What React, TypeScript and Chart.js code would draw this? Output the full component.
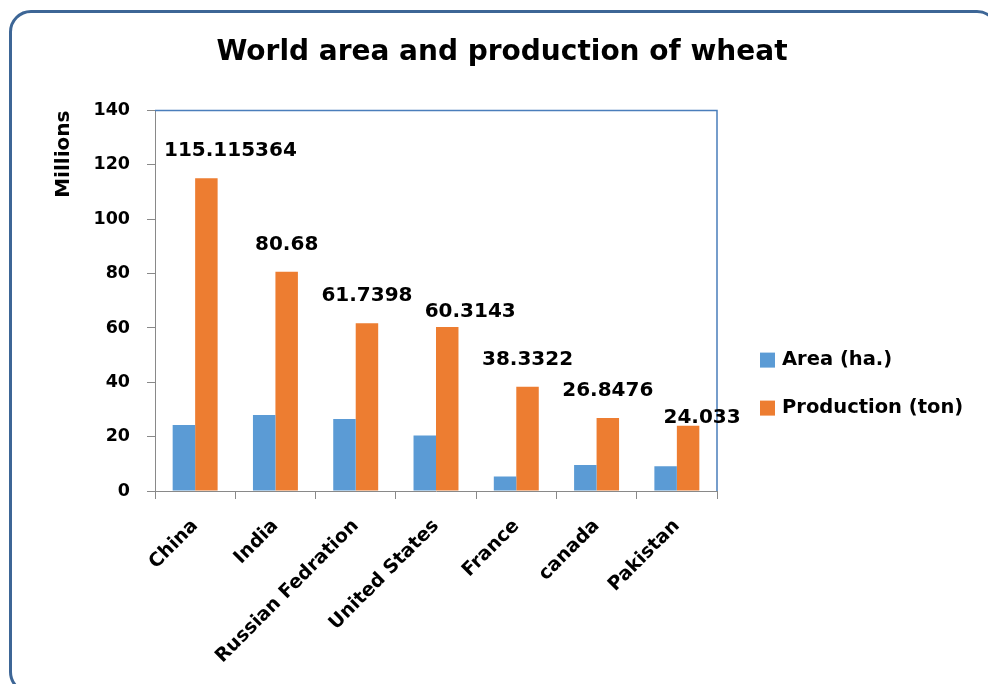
import React, { useEffect, useRef } from "react";
import { Chart, registerables } from "chart.js";

Chart.register(...registerables);

const categories = ["China", "India", "Russian Fedration", "United States", "France", "canada", "Pakistan"];
const areaValues = [24.3, 28.0, 26.5, 20.4, 5.3, 9.6, 9.1];
const productionValues = [115.115364, 80.68, 61.7398, 60.3143, 38.3322, 26.8476, 24.033];
const productionLabels = ["115.115364", "80.68", "61.7398", "60.3143", "38.3322", "26.8476", "24.033"];
const seriesNames = ["Area (ha.)", "Production (ton)"];
const seriesColors = ["#5B9BD5", "#ED7D31"];
const yMin = 0;
const yMax = 140;
const yStep = 20;
const chartTitle = "World area and production of wheat";
const yAxisTitle = "Millions";

const FONT = "'DejaVu Sans', sans-serif";
const AXIS_GRAY = "#898989";

// relative nudges for data labels that were hand-placed in the original
const labelNudges: [number, number][] = [[24, 0], [0, 0], [0, 0], [23, 12], [0, 0], [0, 0], [14, 19]];

const plotBorder = {
  id: "plotBorder",
  afterDatasetsDraw(chart: any) {
    const { ctx, chartArea: a } = chart;
    ctx.save();
    ctx.strokeStyle = "#4A7EBB";
    ctx.lineWidth = 1.5;
    ctx.beginPath();
    ctx.moveTo(a.left, a.top);
    ctx.lineTo(a.right, a.top);
    ctx.lineTo(a.right, a.bottom);
    ctx.stroke();
    ctx.restore();
  },
};

const dataLabels = {
  id: "dataLabels",
  afterDatasetsDraw(chart: any) {
    const { ctx } = chart;
    const meta = chart.getDatasetMeta(1);
    ctx.save();
    ctx.font = `bold 20px ${FONT}`;
    ctx.fillStyle = "#000";
    ctx.textAlign = "center";
    ctx.textBaseline = "middle";
    meta.data.forEach((bar: any, i: number) => {
      const [dx, dy] = labelNudges[i];
      ctx.fillText(productionLabels[i], bar.x + dx, bar.y - 27 + dy);
    });
    ctx.restore();
  },
};

const sideLegend = {
  id: "sideLegend",
  afterDraw(chart: any) {
    const { ctx, chartArea: a } = chart;
    ctx.save();
    ctx.font = `bold 19.5px ${FONT}`;
    ctx.textBaseline = "middle";
    ctx.textAlign = "left";
    chart.data.datasets.forEach((ds: any, i: number) => {
      const cy = a.top + 249 + i * 48;
      const x = a.right + 43;
      ctx.fillStyle = ds.backgroundColor;
      ctx.fillRect(x, cy - 7, 15, 15);
      ctx.fillStyle = "#000";
      ctx.fillText(ds.label, x + 22, cy);
    });
    ctx.restore();
  },
};

export default function App() {
  const canvasRef = useRef<HTMLCanvasElement | null>(null);

  useEffect(() => {
    if (!canvasRef.current) return;
    const chart = new Chart(canvasRef.current, {
      type: "bar",
      data: {
        labels: categories,
        datasets: [
          { label: seriesNames[0], data: areaValues, backgroundColor: seriesColors[0], categoryPercentage: 0.56, barPercentage: 1.0 },
          { label: seriesNames[1], data: productionValues, backgroundColor: seriesColors[1], categoryPercentage: 0.56, barPercentage: 1.0 },
        ],
      },
      options: {
        responsive: false,
        animation: false,
        layout: { padding: { left: 52, right: 36, top: 0, bottom: 0 } },
        plugins: {
          legend: { display: false },
          tooltip: { enabled: false },
          title: {
            display: true,
            text: chartTitle,
            color: "#000",
            font: { family: FONT, size: 28, weight: "bold" },
            padding: { top: 36, bottom: 41 },
          },
        },
        scales: {
          x: {
            grid: { offset: true, drawOnChartArea: false, drawTicks: true, tickLength: 8, color: AXIS_GRAY },
            border: { color: AXIS_GRAY, width: 1 },
            ticks: {
              color: "#000",
              font: { family: FONT, size: 19, weight: "bold" },
              minRotation: 45,
              maxRotation: 45,
              padding: 16,
              autoSkip: false,
            },
            afterFit: (s: any) => { s.height = 193; },
          },
          y: {
            min: yMin,
            max: yMax,
            ticks: { stepSize: yStep, color: "#000", font: { family: FONT, size: 17.5, weight: "bold" }, padding: 17 },
            grid: { drawOnChartArea: false, drawTicks: true, tickLength: 8, color: AXIS_GRAY },
            border: { color: AXIS_GRAY, width: 1 },
            title: {
              display: true,
              text: yAxisTitle,
              align: "end",
              color: "#000",
              font: { family: FONT, size: 20, weight: "bold" },
              padding: { top: 0, bottom: 4 },
            },
            afterFit: (s: any) => { s.width = 103; },
          },
          yLegendSpace: {
            type: "linear",
            position: "right",
            display: true,
            grid: { display: false, drawTicks: false },
            border: { display: false },
            ticks: { display: false },
            afterFit: (s: any) => { s.width = 235; },
          },
        },
      } as any,
      plugins: [plotBorder, dataLabels, sideLegend],
    });
    return () => chart.destroy();
  }, []);

  return (
    <div style={{ position: "absolute", left: 0, top: 0, width: 988, height: 684, overflow: "hidden", background: "#fff" }}>
      <div
        style={{
          position: "absolute",
          left: 9,
          top: 10,
          width: 990,
          height: 684,
          boxSizing: "border-box",
          border: "3px solid #3D6696",
          borderRadius: 22,
        }}
      />
      <canvas ref={canvasRef} width={988} height={684} style={{ position: "absolute", left: 0, top: 0 }} />
    </div>
  );
}
